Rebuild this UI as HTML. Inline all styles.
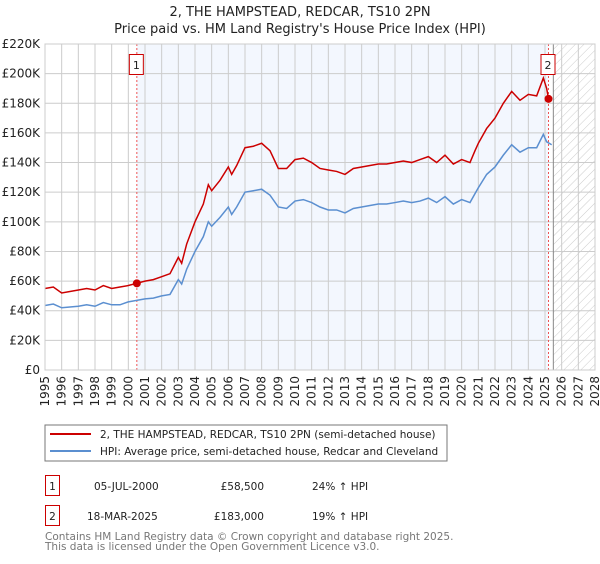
<!DOCTYPE html>
<html><head><meta charset="utf-8"><style>
body{margin:0;background:#fff;font-family:"DejaVu Sans","Liberation Sans",sans-serif;}
#wrap{position:relative;width:600px;height:560px;}
</style></head><body><div id="wrap">
<svg id="chart" width="600" height="560" xmlns="http://www.w3.org/2000/svg" font-family="DejaVu Sans, Liberation Sans, sans-serif">
<defs><pattern id="hatch" width="6" height="6" patternUnits="userSpaceOnUse" patternTransform="rotate(45)"><line x1="0" y1="0" x2="0" y2="6" stroke="#ccc" stroke-width="1"/></pattern></defs>
<text x="300" y="16" text-anchor="middle" font-size="13" fill="#222">2, THE HAMPSTEAD, REDCAR, TS10 2PN</text>
<text x="300" y="33" text-anchor="middle" font-size="13" fill="#222">Price paid vs. HM Land Registry's House Price Index (HPI)</text>
<g id="plot"></g>
<rect x="45" y="425" width="402" height="36" fill="#fff" stroke="#777"/>
<line x1="50" y1="434" x2="91" y2="434" stroke="#cc0000" stroke-width="2"/>
<text x="100" y="438" font-size="10.5" fill="#222">2, THE HAMPSTEAD, REDCAR, TS10 2PN (semi-detached house)</text>
<line x1="50" y1="451" x2="91" y2="451" stroke="#5b8fd0" stroke-width="2"/>
<text x="100" y="455" font-size="10.5" fill="#222">HPI: Average price, semi-detached house, Redcar and Cleveland</text>
<g font-size="10.5" fill="#222">
<rect x="45.5" y="475.5" width="14" height="20" fill="#fff" stroke="#cc0000"/>
<text x="52.5" y="490" text-anchor="middle">1</text>
<text x="94" y="490">05-JUL-2000</text>
<text x="264" y="490" text-anchor="end">£58,500</text>
<text x="312" y="490">24% ↑ HPI</text>
<rect x="45.5" y="505.5" width="14" height="20" fill="#fff" stroke="#cc0000"/>
<text x="52.5" y="520" text-anchor="middle">2</text>
<text x="87" y="520">18-MAR-2025</text>
<text x="264" y="520" text-anchor="end">£183,000</text>
<text x="312" y="520">19% ↑ HPI</text>
</g>
<text x="45" y="540" font-size="10.5" fill="#777">Contains HM Land Registry data © Crown copyright and database right 2025.</text>
<text x="45" y="550" font-size="10.5" fill="#777">This data is licensed under the Open Government Licence v3.0.</text>
</svg></div>
<script>
const yTicks=[0,20,40,60,80,100,120,140,160,180,200,220];
const xYears=[1995,1996,1997,1998,1999,2000,2001,2002,2003,2004,2005,2006,2007,2008,2009,2010,2011,2012,2013,2014,2015,2016,2017,2018,2019,2020,2021,2022,2023,2024,2025,2026,2027,2028];
const hpiT=[1995,1995.5,1996,1997,1997.5,1998,1998.5,1999,1999.5,2000,2000.5,2001,2001.5,2002,2002.5,2003,2003.2,2003.5,2004,2004.5,2004.8,2005,2005.5,2006,2006.2,2006.5,2007,2007.5,2008,2008.5,2009,2009.5,2010,2010.5,2011,2011.5,2012,2012.5,2013,2013.5,2014,2014.5,2015,2015.5,2016,2016.5,2017,2017.5,2018,2018.5,2019,2019.5,2020,2020.5,2020.8,2021,2021.5,2022,2022.5,2023,2023.5,2024,2024.5,2024.9,2025.1,2025.4];
const hpiV=[43.5,44.5,42,43,44,43,45.5,44,44,46,47,48,48.5,50,51,61,58,68,80,90,100,97,103,110,105,110,120,121,122,118,110,109,114,115,113,110,108,108,106,109,110,111,112,112,113,114,113,114,116,113,117,112,115,113,119,123,132,137,145,152,147,150,150,159,154,152];
const redT=[1995,1995.5,1996,1997,1997.5,1998,1998.5,1999,1999.5,2000,2000.5,2001,2001.5,2002,2002.5,2003,2003.2,2003.5,2004,2004.5,2004.8,2005,2005.5,2006,2006.2,2006.5,2007,2007.5,2008,2008.5,2009,2009.5,2010,2010.5,2011,2011.5,2012,2012.5,2013,2013.5,2014,2014.5,2015,2015.5,2016,2016.5,2017,2017.5,2018,2018.5,2019,2019.5,2020,2020.5,2020.8,2021,2021.5,2022,2022.5,2023,2023.5,2024,2024.5,2024.9,2025.1,2025.21];
const redV=[55,56,52,54,55,54,57,55,56,57,58.5,60,61,63,65,76,72,85,100,112,125,121,128,137,132,138,150,151,153,148,136,136,142,143,140,136,135,134,132,136,137,138,139,139,140,141,140,142,144,140,145,139,142,140,148,153,163,170,180,188,182,186,185,197,190,183];
const saleT=[2000.51,2025.21];
const saleV=[58.5,183];
const saleLabels=["1","2"];
const X0=45,X1=595,Y0=370,Y1=44;
const x=t=>X0+(t-1995)/(2028-1995)*(X1-X0);
const y=v=>Y0-v/220*(Y0-Y1);
const NS="http://www.w3.org/2000/svg";
const g=document.getElementById('plot');
function mk(tag,attrs){const e=document.createElementNS(NS,tag);for(const k in attrs)e.setAttribute(k,attrs[k]);g.appendChild(e);return e;}
let e;
e=mk('rect',{x:x(saleT[0]),y:Y1,width:x(saleT[1])-x(saleT[0]),height:Y0-Y1,fill:'#eef3fd',opacity:0.7});


e=mk('rect',{x:x(2025.5),y:Y1,width:X1-x(2025.5),height:Y0-Y1,fill:'url(#hatch)'});


xYears.forEach(t=>{
 e=mk('line',{x1:x(t),x2:x(t),y1:Y1,y2:Y0,stroke:'#ccc','stroke-width':1});
 
 
 e=mk('text',{x:0,y:0,'font-size':12,fill:'#222','text-anchor':'end',transform:`translate(${x(t)+4},${Y0+6}) rotate(-90)`});
 e.textContent=t;
 
 
});
yTicks.forEach(v=>{
 e=mk('line',{x1:X0,x2:X1,y1:y(v),y2:y(v),stroke:'#ccc','stroke-width':1});
 
 
 e=mk('text',{x:X0-5,y:y(v)+4,'font-size':12,fill:'#222','text-anchor':'end'});
 e.textContent=v===0?'£0':'£'+v+'K';
 
 
});
e=mk('line',{x1:x(2025.5),x2:x(2025.5),y1:Y1,y2:Y0,stroke:'#888','stroke-width':1});


saleT.forEach((t,i)=>{
 e=mk('line',{x1:x(t),x2:x(t),y1:Y1,y2:Y0,stroke:'#e55','stroke-width':1,'stroke-dasharray':'2,2'});
 
 
});
e=mk('polyline',{points:hpiT.map((t,i)=>x(t)+','+y(hpiV[i])).join(' '),fill:'none',stroke:'#5b8fd0','stroke-width':1.5});


e=mk('polyline',{points:redT.map((t,i)=>x(t)+','+y(redV[i])).join(' '),fill:'none',stroke:'#cc0000','stroke-width':1.5});


saleT.forEach((t,i)=>{
 e=mk('circle',{cx:x(t),cy:y(saleV[i]),r:4,fill:'#cc0000'});
 
 
 e=mk('rect',{x:x(t)-7.5,y:54.5,width:14,height:20,fill:'#fff',stroke:'#cc0000'});
 
 
 e=mk('text',{x:x(t)-0.5,y:69,'font-size':11,fill:'#222','text-anchor':'middle'});
 e.textContent=saleLabels[i];
 
 
});
e=mk('rect',{x:X0,y:Y1,width:X1-X0,height:Y0-Y1,fill:'none',stroke:'#ccc'});


</script></body></html>
